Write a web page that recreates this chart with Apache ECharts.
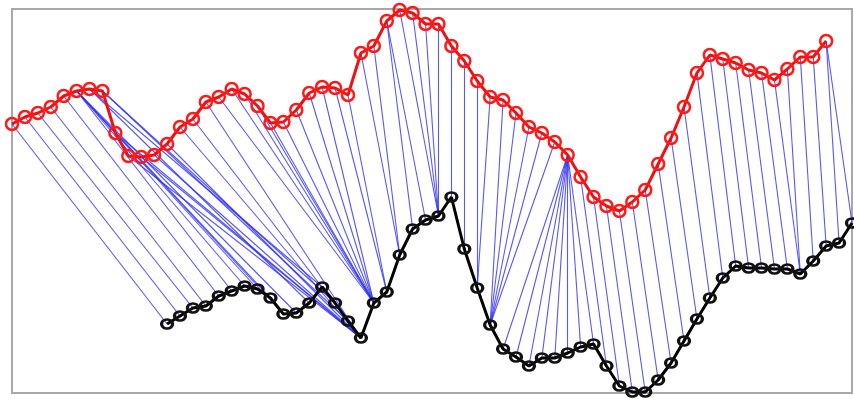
<!DOCTYPE html>
<html>
<head>
<meta charset="utf-8">
<title>DTW alignment</title>
<script src="https://cdn.jsdelivr.net/npm/echarts@6/dist/echarts.min.js"></script>
<style>
  html, body { margin: 0; padding: 0; background: #fff; }
  #dtwChart { width: 854px; height: 399px; }
</style>
</head>
<body>
<div id="dtwChart"></div>
<script>
// upper series (red), one value per sample
var redValues = [26.9, 27.6, 28.0, 28.6, 29.7, 30.2, 30.4, 30.2, 26.0, 23.7, 23.6, 23.8, 24.9, 26.6, 27.4, 29.1,
  29.6, 30.4, 29.9, 28.7, 27.0, 27.1, 28.3, 30.0, 30.6, 30.5, 29.8, 34.0, 34.7, 37.2, 38.3, 38.0,
  36.9, 36.9, 34.7, 33.2, 31.2, 29.6, 29.3, 28.0, 26.6, 26.0, 25.1, 23.8, 21.6, 19.6, 18.7, 18.2,
  19.1, 20.3, 22.9, 25.5, 28.6, 32.0, 33.8, 33.4, 33.0, 32.3, 32.0, 31.3, 32.4, 33.6, 33.6, 35.2];
// lower series (black), starts later on the x axis
var blackValues = [6.9, 7.7, 8.5, 8.7, 9.7, 10.2, 10.7, 10.4, 9.5, 7.9, 8.0, 9.0, 10.6, 9.0, 7.2, 5.5,
  9.0, 10.1, 13.8, 16.4, 17.3, 17.7, 19.6, 14.4, 10.5, 6.8, 4.4, 3.6, 2.7, 3.5, 3.5, 4.0,
  4.6, 4.9, 2.7, 0.7, 0.1, 0.1, 1.3, 3.0, 5.2, 7.4, 9.5, 11.5, 12.7, 12.5, 12.5, 12.4,
  12.4, 11.9, 13.2, 14.7, 15.0, 17.0];
var redStart = 0;
var blackStart = 12;

// warping path: redPath[k] is matched to blackPath[k]
var redPath = [0, 1, 2, 3, 4, 5, 5, 5, 5, 5, 5, 6, 6, 7, 7, 8, 9, 10, 11, 12, 13, 14, 15,
  16, 17, 18, 19, 20, 21, 22, 23, 24, 25, 26, 27, 28, 29, 29, 30, 31, 32, 33, 34, 35, 36, 37,
  38, 39, 40, 41, 42, 43, 43, 43, 43, 43, 43, 43, 43, 44, 45, 46, 47, 48, 49, 50, 51, 52, 53,
  54, 55, 56, 57, 58, 59, 60, 61, 62, 63, 63];
var blackPath = [0, 1, 2, 3, 4, 5, 6, 7, 8, 9, 10, 11, 12, 13, 14, 15, 15, 15, 15, 15, 15, 15, 15,
  16, 16, 16, 16, 16, 16, 16, 16, 16, 17, 17, 18, 18, 19, 20, 21, 21, 21, 21, 22, 23, 24, 24,
  25, 25, 25, 25, 25, 26, 27, 28, 29, 30, 31, 32, 33, 34, 35, 36, 37, 38, 39, 40, 41, 42, 43,
  44, 45, 46, 47, 48, 49, 49, 50, 51, 52, 53];

var redData = redValues.map(function (v, i) { return [redStart + i, v]; });
var blackData = blackValues.map(function (v, i) { return [blackStart + i, v]; });
var linkData = redPath.map(function (r, k) {
  var b = blackPath[k];
  return { coords: [redData[r], blackData[b]] };
});

var chart = echarts.init(document.getElementById('dtwChart'));
var option = {
  animation: false,
  grid: {
    left: 12, right: 2, top: 9, bottom: 6,
    show: true,
    borderColor: '#a8a8a8',
    borderWidth: 2,
    backgroundColor: '#fff'
  },
  xAxis: {
    type: 'value', min: 0, max: 65,
    axisLine: { show: false }, axisTick: { show: false },
    axisLabel: { show: false }, splitLine: { show: false }
  },
  yAxis: {
    type: 'value', min: 0, max: 38.4,
    axisLine: { show: false }, axisTick: { show: false },
    axisLabel: { show: false }, splitLine: { show: false }
  },
  series: [
    {
      // alignment links
      type: 'lines',
      coordinateSystem: 'cartesian2d',
      z: 1,
      silent: true,
      lineStyle: { color: '#3030f0', width: 1.1, opacity: 0.8 },
      data: linkData
    },
    {
      type: 'line',
      z: 3,
      data: blackData,
      symbol: 'circle',
      symbolSize: [11, 9],
      lineStyle: { color: '#000', width: 3 },
      itemStyle: { color: 'rgba(255,255,255,0)', borderColor: '#111', borderWidth: 3 }
    },
    {
      type: 'line',
      z: 3,
      data: redData,
      symbol: 'circle',
      symbolSize: 12,
      lineStyle: { color: '#ee1111', width: 3 },
      itemStyle: { color: 'rgba(255,255,255,0)', borderColor: '#ff1a1a', borderWidth: 2.5 }
    }
  ]
};
chart.setOption(option);
window.addEventListener('resize', function () {
  chart.resize();
});
</script>
</body>
</html>
